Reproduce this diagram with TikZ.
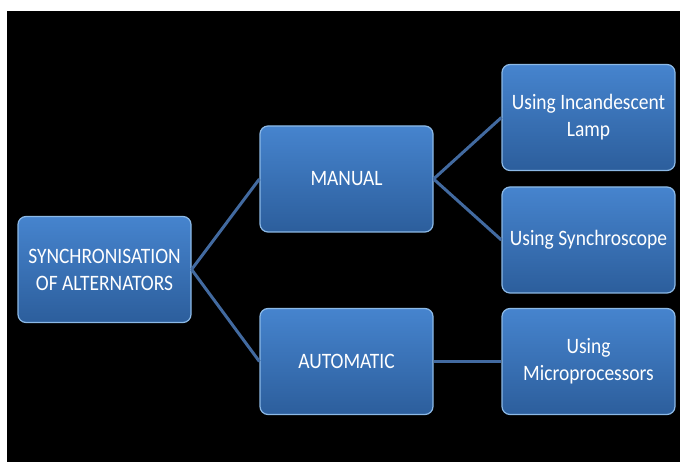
\documentclass[tikz,border=0pt]{standalone}
\usepackage{fontspec}
\setmainfont{Carlito}[FakeStretch=0.885]
\definecolor{boxtop}{RGB}{70,132,206}
\definecolor{boxbot}{RGB}{44,94,156}
\definecolor{boxedge}{RGB}{140,185,230}
\definecolor{linkcol}{RGB}{66,106,160}
\begin{document}
\begin{tikzpicture}[x=1pt,y=-1pt,
  boxnode/.style={rectangle, rounded corners=8pt, top color=boxtop, bottom color=boxbot,
    draw=boxedge, line width=1.2pt, minimum width=173pt, minimum height=106pt,
    text=white, align=center, font=\fontsize{22}{27}\selectfont, inner sep=2pt},
  link/.style={draw=linkcol, line width=3pt}]
\useasboundingbox (0,0) rectangle (680,462);
\fill[white] (0,0) rectangle (680,462);
\fill[black] (7,11) rectangle (680,462);
\node[boxnode] (sync) at (104.5,269.5) {SYNCHRONISATION\\OF ALTERNATORS};
\node[boxnode] (manual) at (346.5,179) {MANUAL};
\node[boxnode] (auto) at (346.5,361.5) {AUTOMATIC};
\node[boxnode] (lamp) at (588.5,117.5) {Using Incandescent\\Lamp};
\node[boxnode] (scope) at (588.5,240) {Using Synchroscope};
\node[boxnode] (micro) at (588.5,361.5) {Using\\Microprocessors};
\draw[link] (sync.east) -- (manual.west);
\draw[link] (sync.east) -- (auto.west);
\draw[link] (manual.east) -- (lamp.west);
\draw[link] (manual.east) -- (scope.west);
\draw[link] (auto.east) -- (micro.west);
\end{tikzpicture}
\end{document}
